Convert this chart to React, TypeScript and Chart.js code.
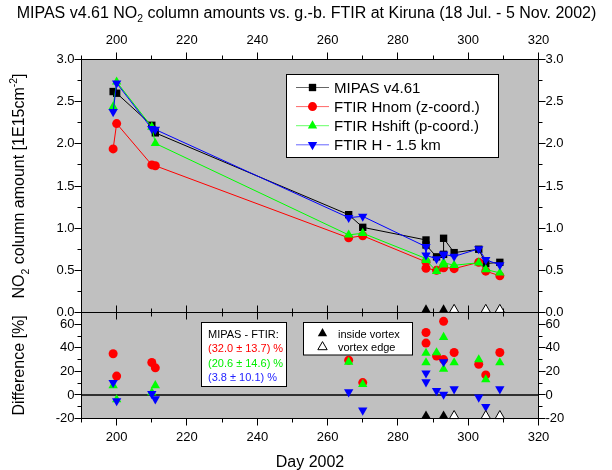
import React, { useEffect, useRef } from 'react';
import { Chart, registerables } from 'chart.js';

Chart.register(...registerables);

// ---------------- data ----------------
const days = [199, 200, 210, 211, 266, 270, 288, 288, 291, 293, 293, 296, 303, 305, 309];
const mipasNO2 = [2.62, 2.6, 2.22, 2.13, 1.16, 1.01, 0.86, 0.8, 0.66, 0.69, 0.88, 0.71, 0.75, 0.58, 0.595];
const hnomNO2 = [1.94, 2.24, 1.75, 1.74, 0.885, 0.91, 0.6, 0.525, 0.5, 0.53, 0.54, 0.52, 0.595, 0.49, 0.435];
const hshiftNO2 = [2.44, 2.735, 2.2, 2.005, 0.92, 0.94, 0.64, 0.62, 0.49, 0.565, 0.59, 0.56, 0.59, 0.51, 0.47];
const h15NO2 = [2.38, 2.72, 2.18, 2.17, 1.125, 1.14, 0.78, 0.68, 0.635, 0.683, 0.69, 0.665, 0.755, 0.625, 0.565];

const diffDays = [199, 200, 210, 211, 266, 270, 288, 288, 291, 293, 293, 296, 303, 305, 309];
const diffHnom = [35, 16, 27.5, 23, 29.5, 10.5, 44, 53, 33, 30, 62.5, 36, 26, 17, 36];
const diffHshift = [8, -4, 2, 8, 28, 9, 35.5, 27.5, 36, 22, 49, 27.5, 30, 13, 27.5];
const diffH15 = [10.5, -5, 1, -3.5, 2.5, -13, 11, 18.5, 3.5, 0.5, 28, 5, -2, -10, 5];

const insideVortexDays = [288, 293];
const vortexEdgeDays = [296, 305, 309];

const xTickLabels = [200, 220, 240, 260, 280, 300, 320];
const columnTickLabels = [0, 0.5, 1.0, 1.5, 2.0, 2.5, 3.0];
const diffTickLabels = [-20, 0, 20, 40, 60];

const seriesNames = ['MIPAS v4.61', 'FTIR Hnom (z-coord.)', 'FTIR Hshift (p-coord.)', 'FTIR H - 1.5 km'];
const statsHeader = 'MIPAS - FTIR:';
const statsLines = ['(32.0 \u00b1 13.7) %', '(20.6 \u00b1 14.6) %', '(3.8 \u00b1 10.1) %'];
const vortexLabels = ['inside vortex', 'vortex edge'];

// ---------------- styling ----------------
const FONT = '"Liberation Sans", Arial, Helvetica, sans-serif';
const GRAY = '#c0c0c0';
const STY = [
  { color: '#000000', point: 'rect', rot: 0, r: 5.2 },
  { color: '#ff0000', point: 'circle', rot: 0, r: 4.5 },
  { color: '#00ff00', point: 'triangle', rot: 0, r: 5.4 },
  { color: '#0000ff', point: 'triangle', rot: 180, r: 5.4 },
];
const VORTEX_TOP_LEVEL = 0.033;
const VORTEX_BOTTOM_LEVEL = -17.8;

const pts = (xs: number[], ys: number[]) => xs.map((x, i) => ({ x, y: ys[i] }));

function marker(ctx: CanvasRenderingContext2D, style: string, x: number, y: number, r: number, rot: number, fill: string, stroke?: string) {
  ctx.beginPath();
  if (style === 'circle') ctx.arc(x, y, r, 0, Math.PI * 2);
  else if (style === 'rect') {
    const s = r * Math.SQRT1_2;
    ctx.rect(x - s, y - s, 2 * s, 2 * s);
  } else {
    let a = (rot * Math.PI) / 180;
    for (let k = 0; k < 3; k++) {
      const px = x + Math.sin(a) * r;
      const py = y - Math.cos(a) * r;
      if (k) ctx.lineTo(px, py);
      else ctx.moveTo(px, py);
      a += (2 * Math.PI) / 3;
    }
    ctx.closePath();
  }
  ctx.fillStyle = fill;
  ctx.fill();
  if (stroke) {
    ctx.strokeStyle = stroke;
    ctx.lineWidth = 1;
    ctx.stroke();
  }
}

type Part = { t: string; s?: 'sub' | 'sup' };
function drawRich(ctx: CanvasRenderingContext2D, parts: Part[], cx: number, baseline: number, size: number) {
  let total = 0;
  for (const p of parts) {
    ctx.font = `${p.s ? size * 0.65 : size}px ${FONT}`;
    total += ctx.measureText(p.t).width;
  }
  let x = cx - total / 2;
  ctx.textAlign = 'left';
  ctx.textBaseline = 'alphabetic';
  for (const p of parts) {
    const fs = p.s ? size * 0.65 : size;
    ctx.font = `${fs}px ${FONT}`;
    const dy = p.s === 'sub' ? size * 0.3 : p.s === 'sup' ? -size * 0.42 : 0;
    ctx.fillText(p.t, x, baseline + dy);
    x += ctx.measureText(p.t).width;
  }
}

const decor = {
  id: 'decor',
  beforeDraw(chart: any) {
    const { ctx, chartArea: a } = chart;
    ctx.save();
    ctx.fillStyle = '#ffffff';
    ctx.fillRect(0, 0, chart.width, chart.height);
    ctx.fillStyle = GRAY;
    ctx.fillRect(a.left, a.top, a.right - a.left, a.bottom - a.top);
    ctx.restore();
  },
  beforeDatasetsDraw(chart: any) {
    const { ctx, chartArea: a } = chart;
    const y0 = chart.scales.yBot.getPixelForValue(0);
    ctx.save();
    ctx.strokeStyle = '#000';
    ctx.lineWidth = 1.5;
    ctx.beginPath();
    ctx.moveTo(a.left, y0);
    ctx.lineTo(a.right, y0);
    ctx.stroke();
    ctx.restore();
  },
  afterDatasetsDraw(chart: any) {
    const { ctx, chartArea: a } = chart;
    const xs = chart.scales.x;
    const yT = chart.scales.yTop;
    const yB = chart.scales.yBot;
    const L = a.left, R = a.right, T = a.top, B = a.bottom, M = yT.bottom;
    ctx.save();
    ctx.strokeStyle = '#000';
    ctx.lineWidth = 1;
    ctx.strokeRect(L, T, R - L, M - T);
    ctx.strokeRect(L, M, R - L, B - M);
    ctx.beginPath();
    for (let d = 190; d <= 320; d += 10) {
      const px = Math.floor(xs.getPixelForValue(d)) + 0.5;
      const len = d % 20 === 0 ? 7 : 4;
      ctx.moveTo(px, T); ctx.lineTo(px, T - len);
      ctx.moveTo(px, M - len); ctx.lineTo(px, M + len);
      ctx.moveTo(px, B); ctx.lineTo(px, B + len);
    }
    for (let k = 0; k <= 12; k++) {
      const v = k * 0.25;
      const py = Math.floor(yT.getPixelForValue(v)) + 0.5;
      const len = k % 2 === 0 ? 7 : 4;
      ctx.moveTo(L, py); ctx.lineTo(L - len, py);
      ctx.moveTo(R, py); ctx.lineTo(R + len, py);
    }
    for (let v = -20; v < 70; v += 10) {
      const py = Math.floor(yB.getPixelForValue(v)) + 0.5;
      const len = v % 20 === 0 ? 7 : 4;
      ctx.moveTo(L, py); ctx.lineTo(L - len, py);
      ctx.moveTo(R, py); ctx.lineTo(R + len, py);
    }
    ctx.stroke();

    // series legend
    ctx.fillStyle = '#fff';
    ctx.fillRect(286.5, 74.5, 212, 83);
    ctx.strokeRect(286.5, 74.5, 212, 83);
    for (let i = 0; i < 4; i++) {
      const ry = 87.5 + i * 19.1;
      const s = STY[i];
      ctx.strokeStyle = s.color;
      ctx.globalAlpha = 0.6;
      ctx.beginPath();
      ctx.moveTo(296, ry); ctx.lineTo(329, ry);
      ctx.stroke();
      ctx.globalAlpha = 1;
      marker(ctx, s.point, 312.5, ry, s.r, s.rot, s.color);
      ctx.fillStyle = '#000';
      ctx.font = `15px ${FONT}`;
      ctx.textAlign = 'left';
      ctx.textBaseline = 'alphabetic';
      ctx.fillText(seriesNames[i], 334, ry + 5.4);
    }
    ctx.strokeStyle = '#000';

    // stats box
    ctx.fillStyle = '#fff';
    ctx.fillRect(201.5, 322.5, 85, 64);
    ctx.strokeRect(201.5, 322.5, 85, 64);
    ctx.font = `11px ${FONT}`;
    const statColors = ['#000000', '#ff0000', '#00ee00', '#2222ff'];
    [statsHeader, ...statsLines].forEach((t, i) => {
      ctx.fillStyle = statColors[i];
      ctx.fillText(t, 208, 338 + i * 14.3);
    });

    // vortex box
    ctx.fillStyle = '#fff';
    ctx.fillRect(303.5, 322.5, 109, 32.5);
    ctx.strokeRect(303.5, 322.5, 109, 32.5);
    marker(ctx, 'triangle', 322.5, 333.5, 5.4, 0, '#000');
    marker(ctx, 'triangle', 322.5, 347, 5.4, 0, '#fff', '#000');
    ctx.fillStyle = '#000';
    ctx.font = `11px ${FONT}`;
    ctx.fillText(vortexLabels[0], 338, 337.5);
    ctx.fillText(vortexLabels[1], 338, 351);
    ctx.restore();
  },
  afterDraw(chart: any) {
    const { ctx, chartArea: a } = chart;
    const yT = chart.scales.yTop;
    ctx.save();
    ctx.fillStyle = '#000';
    const titleParts: Part[] = [
      { t: 'MIPAS v4.61 NO' },
      { t: '2', s: 'sub' },
      { t: ' column amounts vs. g.-b. FTIR at Kiruna (18 Jul. - 5 Nov. 2002)' },
    ];
    // fit title width to the figure
    let w15 = 0;
    for (const p of titleParts) {
      ctx.font = `${p.s ? 15 * 0.65 : 15}px ${FONT}`;
      w15 += ctx.measureText(p.t).width;
    }
    const tSize = Math.min(16, (15 * 603) / w15);
    drawRich(ctx, titleParts, 306.5, 17.5, tSize);

    const cxL = 24;
    ctx.save();
    ctx.translate(cxL, (a.top + yT.bottom) / 2);
    ctx.rotate(-Math.PI / 2);
    drawRich(ctx, [{ t: 'NO' }, { t: '2', s: 'sub' }, { t: ' column amount [1E15cm' }, { t: '-2', s: 'sup' }, { t: ']' }], 0, 0, 16);
    ctx.restore();

    ctx.save();
    ctx.translate(cxL, (yT.bottom + a.bottom) / 2);
    ctx.rotate(-Math.PI / 2);
    drawRich(ctx, [{ t: 'Difference [%]' }], 0, 0, 16);
    ctx.restore();

    drawRich(ctx, [{ t: 'Day 2002' }], (a.left + a.right) / 2, 466.5, 16);
    ctx.restore();
  },
};

function buildConfig(): any {
  const datasets: any[] = [];
  const topSeries = [mipasNO2, hnomNO2, hshiftNO2, h15NO2];
  STY.forEach((s, i) => {
    datasets.push({
      label: seriesNames[i],
      data: pts(days, topSeries[i]),
      xAxisID: 'x',
      yAxisID: 'yTop',
      showLine: true,
      borderColor: s.color,
      backgroundColor: s.color,
      borderWidth: 1,
      pointStyle: s.point,
      pointRotation: s.rot,
      pointRadius: s.r,
      pointBackgroundColor: s.color,
      pointBorderColor: s.color,
      pointBorderWidth: 0,
      order: 10 - i,
      clip: false,
    });
  });
  const diffSeries = [diffHnom, diffHshift, diffH15];
  diffSeries.forEach((vals, k) => {
    const s = STY[k + 1];
    datasets.push({
      label: 'diff ' + seriesNames[k + 1],
      data: pts(diffDays, vals),
      xAxisID: 'x',
      yAxisID: 'yBot',
      showLine: false,
      pointStyle: s.point,
      pointRotation: s.rot,
      pointRadius: s.r,
      pointBackgroundColor: s.color,
      pointBorderColor: s.color,
      pointBorderWidth: 0,
      order: 10 - (k + 1),
      clip: false,
    });
  });
  const vortexSets = [
    { d: insideVortexDays, fill: '#000000', border: 0 },
    { d: vortexEdgeDays, fill: '#ffffff', border: 1 },
  ];
  vortexSets.forEach((v) => {
    [
      { axis: 'yTop', level: VORTEX_TOP_LEVEL },
      { axis: 'yBot', level: VORTEX_BOTTOM_LEVEL },
    ].forEach((p) => {
      datasets.push({
        label: 'vortex',
        data: v.d.map((x) => ({ x, y: p.level })),
        xAxisID: 'x',
        yAxisID: p.axis,
        showLine: false,
        pointStyle: 'triangle',
        pointRadius: 5.4,
        pointBackgroundColor: v.fill,
        pointBorderColor: '#000',
        pointBorderWidth: v.border,
        order: 0,
        clip: false,
      });
    });
  });

  const tickFont = { family: FONT, size: 13 };
  const setTicks = (vals: number[]) => (s: any) => {
    s.ticks = vals.map((v) => ({ value: v }));
  };
  const common = {
    type: 'linear',
    grid: { display: false, drawTicks: false },
    border: { display: false },
  };
  const xScale = (pos: string, h: number) => ({
    ...common,
    axis: 'x',
    position: pos,
    min: 190,
    max: 320,
    afterBuildTicks: setTicks(xTickLabels),
    afterFit: (s: any) => { s.height = h; },
    ticks: { color: '#000', font: tickFont, padding: 11, autoSkip: false, maxRotation: 0, minRotation: 0, callback: (v: any) => String(v) },
  });
  const yScale = (pos: string, stack: string, sw: number, weight: number, min: number, max: number, vals: number[], fmt: (v: number) => string, w: number) => ({
    ...common,
    axis: 'y',
    position: pos,
    stack,
    stackWeight: sw,
    weight,
    min,
    max,
    afterBuildTicks: setTicks(vals),
    afterFit: (s: any) => { s.width = w; },
    ticks: { color: '#000', font: tickFont, padding: 7, autoSkip: false, callback: (v: any) => fmt(Number(v)) },
  });
  const f1 = (v: number) => v.toFixed(1);
  const f0 = (v: number) => String(v);

  return {
    type: 'scatter',
    data: { datasets },
    plugins: [decor],
    options: {
      responsive: false,
      animation: false,
      events: [],
      devicePixelRatio: 1,
      layout: { padding: 0 },
      plugins: { legend: { display: false }, tooltip: { enabled: false }, title: { display: false } },
      scales: {
        x: xScale('bottom', 51.5),
        xTop: xScale('top', 59.5),
        yBot: yScale('left', 'L', 106, 0, -20, 70, diffTickLabels, f0, 81.5),
        yTop: yScale('left', 'L', 253, 1, 0, 3, columnTickLabels, f1, 81.5),
        yTopR: yScale('right', 'R', 253, 0, 0, 3, columnTickLabels, f1, 73.5),
        yBotR: yScale('right', 'R', 106, 1, -20, 70, diffTickLabels, f0, 73.5),
      },
    },
  };
}

export default function App() {
  const ref = useRef<HTMLCanvasElement>(null);
  useEffect(() => {
    const canvas = ref.current;
    if (!canvas) return;
    Chart.defaults.font.family = FONT;
    const chart = new Chart(canvas, buildConfig());
    return () => chart.destroy();
  }, []);
  return (
    <div style={{ position: 'fixed', left: 0, top: 0, width: 612, height: 470, background: '#fff' }}>
      <canvas ref={ref} width={612} height={470} style={{ display: 'block', width: 612, height: 470 }} />
    </div>
  );
}
